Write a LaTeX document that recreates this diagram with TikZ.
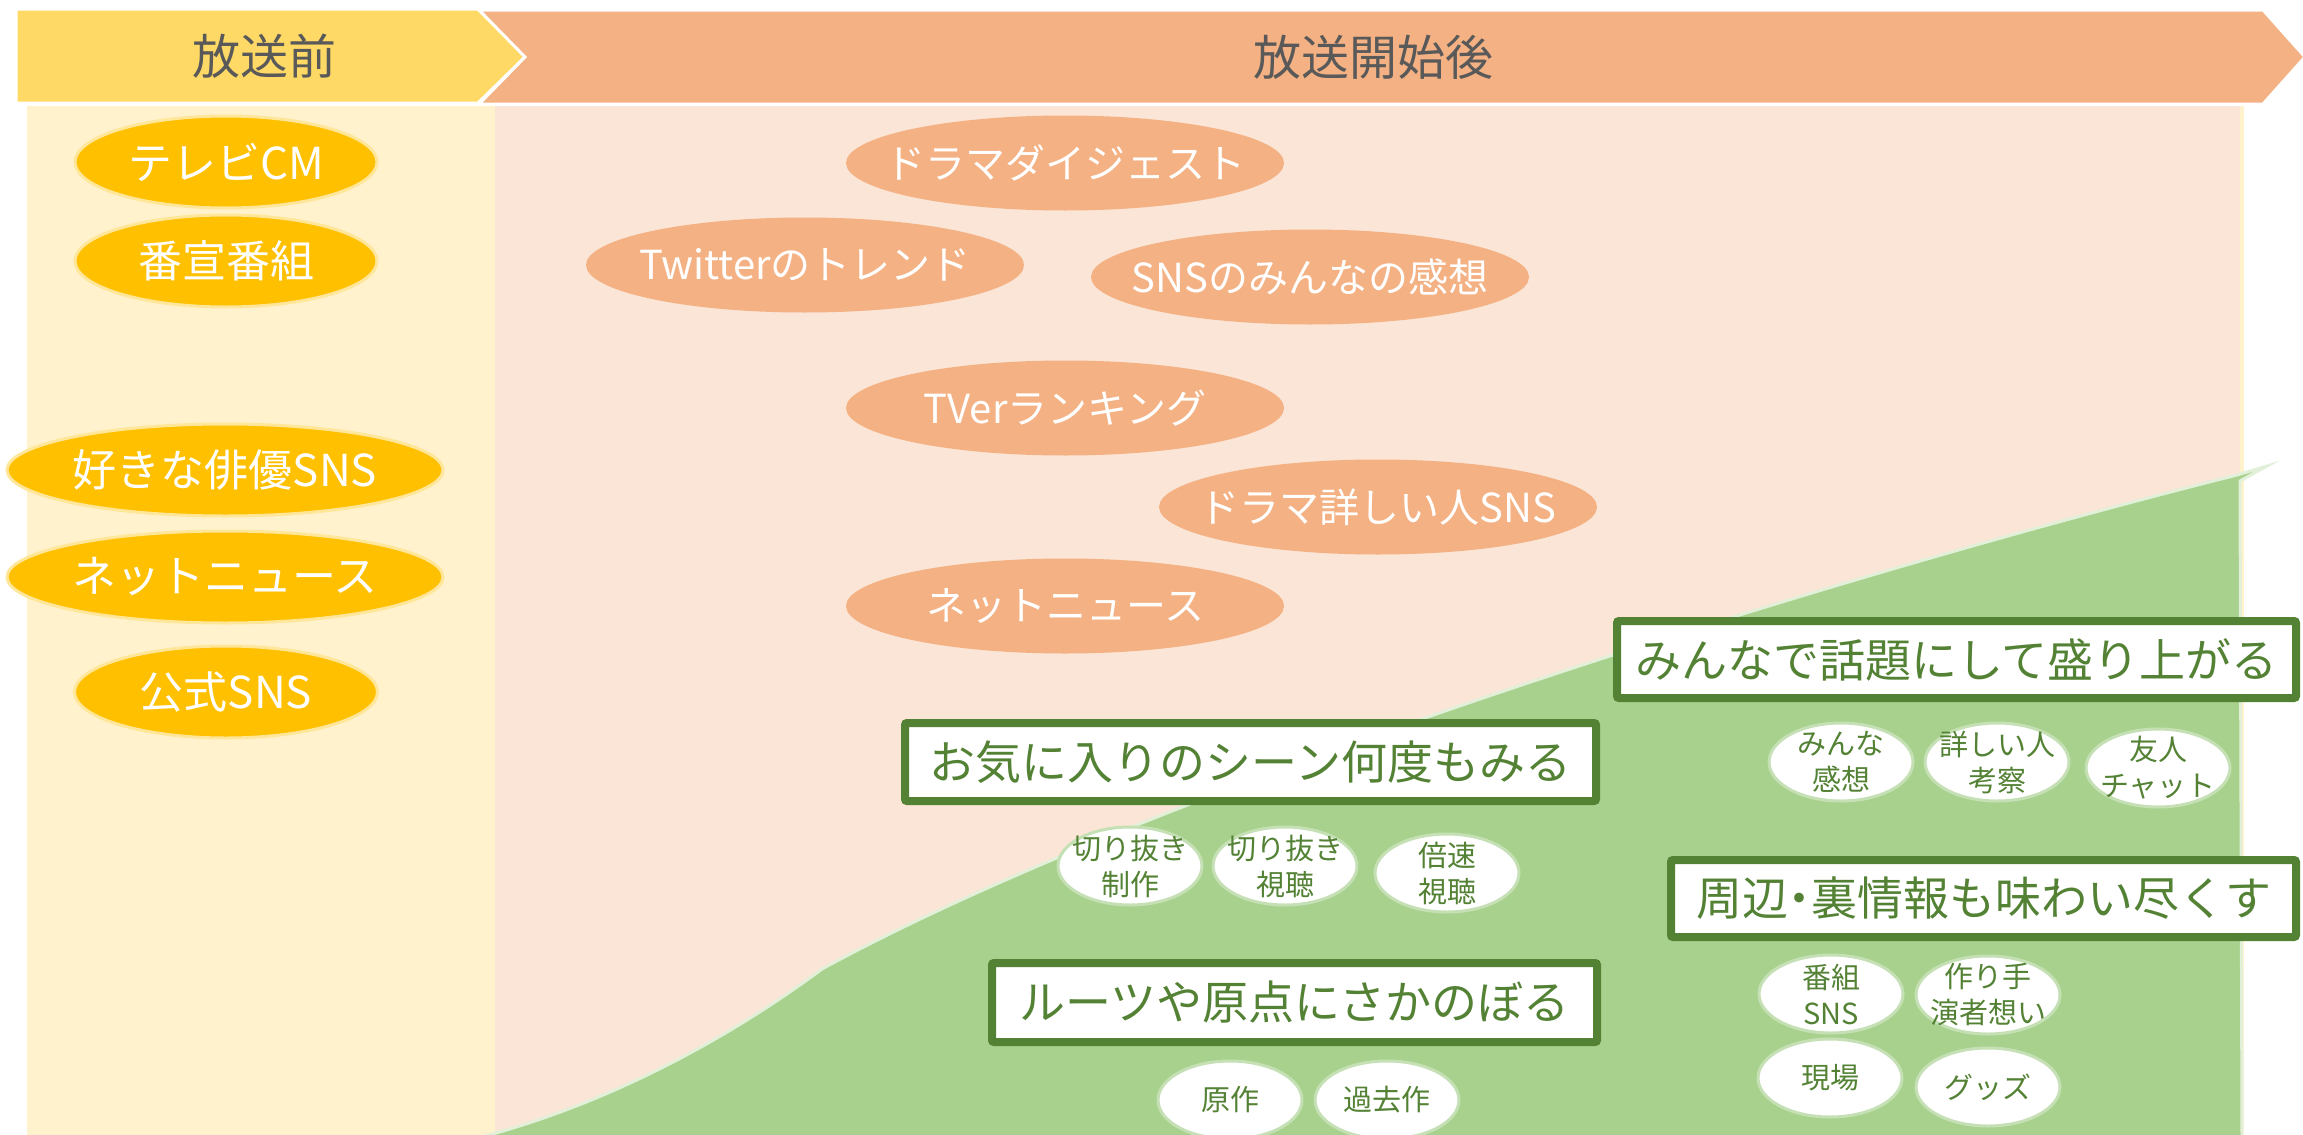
\documentclass[tikz,border=0pt]{standalone}
\usepackage{fontspec}
\setmainfont{Noto Sans CJK JP}
\usetikzlibrary{shapes.geometric}
\definecolor{hdrY}{HTML}{FFD966}
\definecolor{hdrO}{HTML}{F4B183}
\definecolor{panY}{HTML}{FFF2CC}
\definecolor{panP}{HTML}{FBE5D6}
\definecolor{ellY}{HTML}{FFC000}
\definecolor{ellYb}{HTML}{FFE699}
\definecolor{grn}{HTML}{A9D18E}
\definecolor{grnb}{HTML}{E2F0D9}
\definecolor{dgrn}{HTML}{548235}
\definecolor{sgb}{HTML}{C5E0B4}
\definecolor{gtxt}{HTML}{595959}
\begin{document}
\begin{tikzpicture}[x=1pt,y=-1pt,
  hdrtext/.style={text=gtxt, font=\fontsize{48}{52}\selectfont},
  yel/.style={ellipse, fill=ellY, draw=ellYb, line width=3pt, minimum width=#1, minimum height=92pt, inner sep=0pt},
  ytext/.style={text=white, font=\fontsize{44}{48}\selectfont},
  ora/.style={ellipse, fill=hdrO, minimum width=438pt, minimum height=95pt, inner sep=0pt},
  otext/.style={text=white, font=\fontsize{40}{44}\selectfont},
  sm/.style={ellipse, fill=white, draw=sgb, line width=3pt, minimum width=144pt, minimum height=78pt, inner sep=0pt},
  stext/.style={text=dgrn, font=\fontsize{29}{36}\selectfont, align=center},
  ttl/.style={rectangle, draw=dgrn, fill=white, line width=8pt, rounded corners=2pt, inner sep=0pt,
    text=dgrn, font=\fontsize{46}{50}\selectfont},
]
\useasboundingbox (0,0) rectangle (2303,1135);
% panels
\fill[panY] (27,106) rectangle (2244,1135);
\fill[panP] (495,106) rectangle (2240,1135);
% green area
\filldraw[fill=grn, draw=grnb, line width=3pt]
  (485,1136) .. controls (620,1100) and (740,1030) .. (822,969)
  .. controls (1150,790) and (1800,585) .. (2237,475)
  -- (2267,466) -- (2240,481) -- (2242,1140) -- (485,1140) -- cycle;
% header chevrons
\filldraw[fill=hdrY, draw=white, line width=3pt] (16,9) -- (478,9) -- (526,56) -- (478,103) -- (16,103) -- cycle;
\filldraw[fill=hdrO, draw=white, line width=3pt] (479,10) -- (2263,10) -- (2305,57) -- (2263,104) -- (479,104) -- (525,57) -- cycle;
\node[hdrtext] (h1) at (264,56) {放送前};
\node[hdrtext] (h2) at (1373,57) {放送開始後};
% before broadcast
\node[yel=302pt, label={[ytext]center:テレビCM}] (y1) at (226,162) {};
\node[yel=302pt, label={[ytext]center:番宣番組}] (y2) at (226,261) {};
\node[yel=436pt, label={[ytext]center:好きな俳優SNS}] (y3) at (225,470) {};
\node[yel=436pt, label={[ytext]center:ネットニュース}] (y4) at (225,577) {};
\node[yel=303pt, label={[ytext]center:公式SNS}] (y5) at (226,692) {};
% after broadcast
\node[ora, label={[otext]center:ドラマダイジェスト}] (o1) at (1065,163) {};
\node[ora, label={[otext]center:Twitterのトレンド}] (o2) at (805,265) {};
\node[ora, label={[otext]center:SNSのみんなの感想}] (o3) at (1310,277) {};
\node[ora, label={[otext]center:TVerランキング}] (o4) at (1065,408) {};
\node[ora, label={[otext]center:ドラマ詳しい人SNS}] (o5) at (1378,507) {};
\node[ora, label={[otext]center:ネットニュース}] (o6) at (1065,606) {};
% titles
\node[ttl, minimum width=691pt, minimum height=78pt] (t1) at (1250.5,762) {お気に入りのシーン何度もみる};
\node[ttl, minimum width=605pt, minimum height=79pt] (t2) at (1294.5,1002.5) {ルーツや原点にさかのぼる};
\node[ttl, minimum width=679pt, minimum height=77pt] (t3) at (1956.5,659.5) {みんなで話題にして盛り上がる};
\node[ttl, minimum width=625pt, minimum height=77pt] (t4) at (1983.5,898.5) {周辺\kern-0.25em・\kern-0.25em 裏情報も味わい尽くす};
% small items
\node[sm, label={[stext]center:{切り抜き\\制作}}] (s1) at (1130,866) {};
\node[sm, label={[stext]center:{切り抜き\\視聴}}] (s2) at (1285,866) {};
\node[sm, label={[stext]center:{倍速\\視聴}}] (s3) at (1447,873) {};
\node[sm, label={[stext]center:原作}] (s4) at (1230,1100) {};
\node[sm, label={[stext]center:過去作}] (s5) at (1387,1100) {};
\node[sm, label={[stext]center:{みんな\\感想}}] (s6) at (1841,762) {};
\node[sm, label={[stext]center:{詳しい人\\考察}}] (s7) at (1997,762) {};
\node[sm, label={[stext]center:{友人\\チャット}}] (s8) at (2158,768) {};
\node[sm, label={[stext]center:{番組\\SNS}}] (s9) at (1831,994) {};
\node[sm, label={[stext]center:{作り手\\演者想い}}] (s10) at (1988,995) {};
\node[sm, label={[stext]center:現場}] (s11) at (1830,1078) {};
\node[sm, label={[stext]center:グッズ}] (s12) at (1988,1087) {};
\end{tikzpicture}
\end{document}
